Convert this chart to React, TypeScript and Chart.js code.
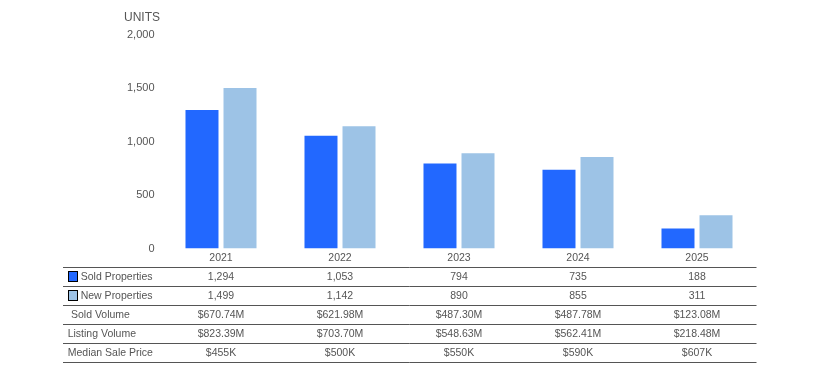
import React, { useEffect, useRef } from "react";
import { Chart, registerables } from "chart.js";

Chart.register(...registerables);

const years = ["2021", "2022", "2023", "2024", "2025"];
const soldProperties = [1294, 1053, 794, 735, 188];
const newProperties = [1499, 1142, 890, 855, 311];
const soldVolume = ["$670.74M", "$621.98M", "$487.30M", "$487.78M", "$123.08M"];
const listingVolume = ["$823.39M", "$703.70M", "$548.63M", "$562.41M", "$218.48M"];
const medianSalePrice = ["$455K", "$500K", "$550K", "$590K", "$607K"];
const yTicks = [0, 500, 1000, 1500, 2000];

const SOLD_COLOR = "#2268FF";
const NEW_COLOR = "#9DC3E6";
const TEXT_COLOR = "#555555";
const FONT = "Arial, 'Liberation Sans', sans-serif";

const fmt = (n: number) => n.toLocaleString("en-US");

const tablePlugin = {
  id: "tablePlugin",
  afterDraw(chart: any) {
    const ctx = chart.ctx;
    const area = chart.chartArea;
    const xScale = chart.scales.x;
    ctx.save();
    // UNITS title
    ctx.fillStyle = TEXT_COLOR;
    ctx.font = `12px ${FONT}`;
    ctx.textAlign = "left";
    ctx.textBaseline = "middle";
    ctx.fillText("UNITS", 116, 10);

    const rows = [
      { label: "Sold Properties", values: soldProperties.map(fmt), swatch: SOLD_COLOR, lx: 72.7 },
      { label: "New Properties", values: newProperties.map(fmt), swatch: NEW_COLOR, lx: 72.7 },
      { label: "Sold Volume", values: soldVolume, swatch: null, lx: 63 },
      { label: "Listing Volume", values: listingVolume, swatch: null, lx: 59.7 },
      { label: "Median Sale Price", values: medianSalePrice, swatch: null, lx: 59.7 },
    ];
    const lineLeft = 55;
    const lineRight = area.right;
    const firstLine = area.bottom + 18.8;
    const rowH = 19;
    ctx.strokeStyle = "#555555";
    ctx.lineWidth = 1;
    for (let i = 0; i <= rows.length; i++) {
      const y = Math.round(firstLine + i * rowH) + 0.5;
      ctx.beginPath();
      ctx.moveTo(lineLeft, y);
      ctx.lineTo(lineRight, y);
      ctx.stroke();
    }
    ctx.font = `10.5px ${FONT}`;
    rows.forEach((row, i) => {
      const cy = firstLine + i * rowH + rowH / 2;
      if (row.swatch) {
        ctx.fillStyle = row.swatch;
        ctx.fillRect(60.5, Math.round(cy) - 5.5, 9, 10);
        ctx.strokeStyle = "#000000";
        ctx.strokeRect(60.5, Math.round(cy) - 5.5, 9, 10);
      }
      ctx.fillStyle = TEXT_COLOR;
      ctx.textAlign = "left";
      ctx.fillText(row.label, row.lx, cy);
      ctx.textAlign = "center";
      row.values.forEach((v, j) => {
        ctx.fillText(v, xScale.getPixelForValue(j), cy);
      });
    });
    ctx.restore();
  },
};

export default function App() {
  const canvasRef = useRef<HTMLCanvasElement | null>(null);
  useEffect(() => {
    if (!canvasRef.current) return;
    const chart = new Chart(canvasRef.current, {
      type: "bar",
      data: {
        labels: years,
        datasets: [
          { label: "Sold Properties", data: soldProperties, backgroundColor: SOLD_COLOR },
          { label: "New Properties", data: newProperties, backgroundColor: NEW_COLOR },
        ],
      },
      options: {
        animation: false,
        responsive: true,
        maintainAspectRatio: false,
        datasets: { bar: { barPercentage: 0.868, categoryPercentage: 0.639 } } as any,
        layout: { padding: { left: 0, right: 49.5, top: 26.5, bottom: 0 } },
        plugins: { legend: { display: false }, tooltip: { enabled: false }, title: { display: false } },
        scales: {
          x: {
            grid: { display: false, drawTicks: false },
            border: { display: false },
            ticks: { color: TEXT_COLOR, font: { size: 10.5, family: FONT }, padding: 3 },
            afterFit: (s: any) => { s.height = 123.5; },
          },
          y: {
            min: 0,
            max: 2000,
            afterBuildTicks: (s: any) => { s.ticks = yTicks.map((v) => ({ value: v })); },
            grid: { display: false, drawTicks: false },
            border: { display: false },
            ticks: { color: TEXT_COLOR, font: { size: 11, family: FONT }, padding: 7, callback: (v: any) => fmt(Number(v)) },
            afterFit: (s: any) => { s.width = 153.5; },
          },
        },
      },
      plugins: [tablePlugin],
    });
    return () => chart.destroy();
  }, []);
  return (
    <div style={{ width: 798, height: 364, position: "relative" }}>
      <canvas ref={canvasRef} />
    </div>
  );
}
